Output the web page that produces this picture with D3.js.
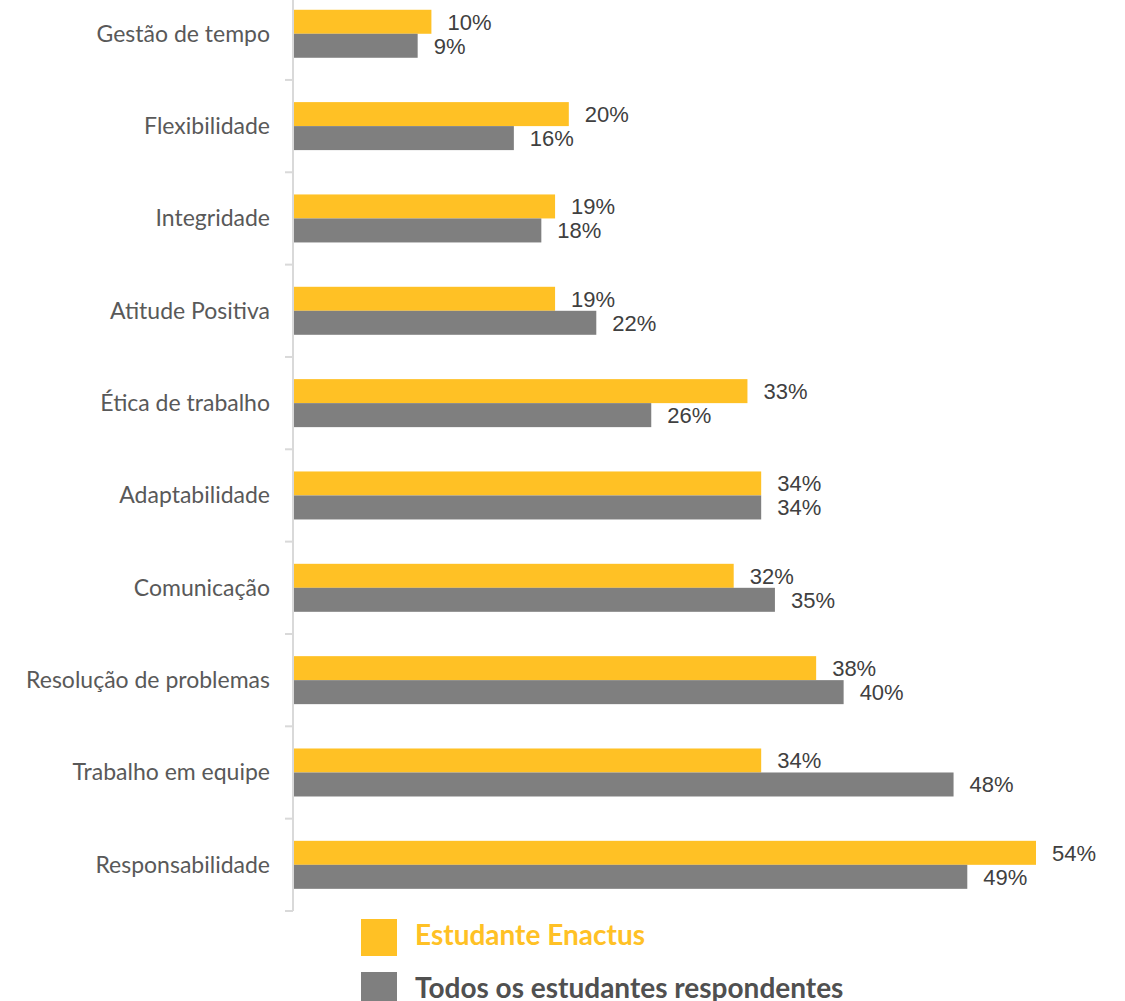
<html>
<head>
    <meta charset="utf-8">
    <script src="https://d3js.org/d3.v7.min.js"></script>
    <style>
        body { margin: 0; background: #fff; }
        .cat-label { font-family: Lato, "Noto Sans", sans-serif; font-size: 23px; fill: #595959; }
        .val-label { font-family: "Liberation Sans", Arial, sans-serif; font-size: 22px; fill: #404040; }
        .legend text { font-family: Lato, "Noto Sans", sans-serif; font-size: 28px; font-weight: bold; }
    </style>
</head>
<body>
    <svg id="chart"></svg>
    <script>
        const categories = ["Gestão de tempo", "Flexibilidade", "Integridade", "Atitude Positiva",
            "Ética de trabalho", "Adaptabilidade", "Comunicação", "Resolução de problemas",
            "Trabalho em equipe", "Responsabilidade"];
        const enactus = [10, 20, 19, 19, 33, 34, 32, 38, 34, 54];
        const todos = [9, 16, 18, 22, 26, 34, 35, 40, 48, 49];
        const seriesNames = ["Estudante Enactus", "Todos os estudantes respondentes"];
        const colors = ["#FFC125", "#7F7F7F"];

        const W = 1125, H = 1001;
        const svg = d3.select("#chart").attr("width", W).attr("height", H);

        const x0 = 294;
        const x = d3.scaleLinear().domain([0, 54]).range([x0, 1036]);
        const y = d3.scaleBand().domain(categories).range([-12.4, 911]).paddingInner(0).paddingOuter(0);
        const barH = 24;

        const data = categories.map((c, i) => ({ cat: c, vals: [enactus[i], todos[i]] }));

        const groups = svg.selectAll(".grp").data(data).enter().append("g")
            .attr("transform", d => `translate(0,${y(d.cat) + y.bandwidth() / 2})`);

        groups.each(function(d) {
            const g = d3.select(this);
            d.vals.forEach((v, j) => {
                g.append("rect")
                    .attr("x", x(0))
                    .attr("y", j === 0 ? -barH : 0)
                    .attr("width", x(v) - x(0))
                    .attr("height", barH)
                    .attr("fill", colors[j]);
                g.append("text")
                    .attr("class", "val-label")
                    .attr("x", x(v) + 16)
                    .attr("y", (j === 0 ? -barH / 2 : barH / 2) + 8)
                    .text(v + "%");
            });
            g.append("text")
                .attr("class", "cat-label")
                .attr("x", 270)
                .attr("y", 8)
                .attr("text-anchor", "end")
                .text(d.cat);
        });

        // axis line with ticks between categories
        const axis = svg.append("g");
        axis.append("line")
            .attr("x1", x0 - 1).attr("x2", x0 - 1)
            .attr("y1", -12.4).attr("y2", 911)
            .attr("stroke", "#D9D9D9").attr("stroke-width", 2);
        const tickYs = categories.slice(1).map(c => y(c)).concat([911]);
        axis.selectAll(".tick").data(tickYs).enter().append("line")
            .attr("x1", x0 - 9).attr("x2", x0 - 1)
            .attr("y1", d => d).attr("y2", d => d)
            .attr("stroke", "#D9D9D9").attr("stroke-width", 2);

        // legend
        const legend = svg.append("g").attr("class", "legend");
        const textColors = ["#FFC125", "#505050"];
        seriesNames.forEach((s, i) => {
            legend.append("rect")
                .attr("x", 361).attr("y", 919 + i * 53)
                .attr("width", 36).attr("height", 37)
                .attr("fill", colors[i]);
            legend.append("text")
                .attr("x", 415).attr("y", 919 + i * 53 + 26)
                .attr("fill", textColors[i])
                .text(s);
        });
    </script>
</body>
</html>
